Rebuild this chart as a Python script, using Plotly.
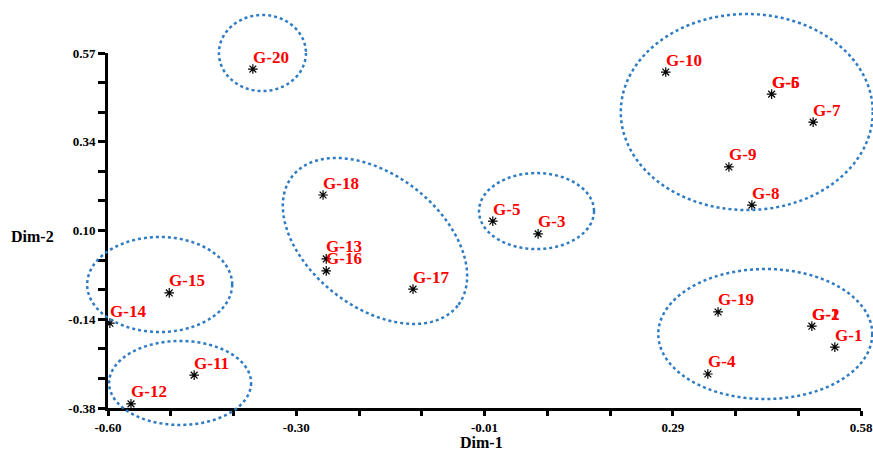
import numpy as np
import plotly.graph_objects as go

# Genotype scores on the first two dimensions
genotypes = ["G-1", "G-2", "G-3", "G-4", "G-5", "G-6", "G-7", "G-8", "G-9", "G-10",
             "G-11", "G-12", "G-13", "G-14", "G-15", "G-16", "G-17", "G-18", "G-19", "G-20"]
dim1 = [0.539, 0.503, 0.074, 0.340, 0.003, 0.440, 0.505, 0.409, 0.373, 0.274,
        -0.465, -0.564, -0.258, -0.597, -0.504, -0.258, -0.122, -0.263, 0.356, -0.373]
dim2 = [-0.217, -0.161, 0.086, -0.289, 0.120, 0.460, 0.385, 0.163, 0.265, 0.519,
        -0.292, -0.369, 0.019, -0.153, -0.072, -0.013, -0.062, 0.190, -0.123, 0.527]

# Labels printed on top of another label at the same spot
overlay_labels = ["G-5", "G-1"]
overlay_dim1 = [0.440, 0.503]
overlay_dim2 = [0.460, -0.161]

# Axis ranges and tick labels
x_range = [-0.60, 0.58]
y_range = [-0.38, 0.57]
x_tick_text = ["-0.60", "-0.30", "-0.01", "0.29", "0.58"]
y_tick_text = ["-0.38", "-0.14", "0.10", "0.34", "0.57"]

# Cluster outlines: centre (Dim-1, Dim-2), semi-axes in px, rotation in degrees
clusters = [
    (-0.358, 0.570, 43.5, 38, 0),
    (0.401, 0.412, 126, 98, 0),
    (0.430, -0.182, 107, 65, 0),
    (0.0715, 0.147, 57.5, 38, 0),
    (-0.1816, 0.067, 105, 66, 38),
    (-0.519, -0.0495, 72.5, 47.5, 0),
    (-0.487, -0.313, 71, 42, 0),
]

W, H = 873, 450
ML, MR, MT, MB = 108, 12, 53, 42
PW, PH = W - ML - MR, H - MT - MB

serif = "Liberation Serif"
red = "#FF0000"
blue = "#2E7BC4"

fig = go.Figure()
fig.add_trace(go.Scatter(
    x=dim1, y=dim2, mode="markers",
    marker=dict(symbol="asterisk-open", size=8, color="black",
                line=dict(color="black", width=1.2)),
    cliponaxis=False, showlegend=False, hoverinfo="text", text=genotypes,
))

annotations = []
for name, xv, yv in list(zip(genotypes, dim1, dim2)) + list(zip(overlay_labels, overlay_dim1, overlay_dim2)):
    annotations.append(dict(
        x=xv, y=yv, xref="x", yref="y", text=name, showarrow=False,
        xanchor="left", yanchor="middle", xshift=-2, yshift=12,
        font=dict(family=serif, size=17, color=red, weight="bold"),
    ))

# Axis titles
annotations.append(dict(x=(32 - ML) / PW, y=(H - MB - 236) / PH, xref="paper", yref="paper",
                        text="Dim-2", showarrow=False, xanchor="center", yanchor="middle",
                        font=dict(family=serif, size=16, color="black", weight="bold")))
annotations.append(dict(x=(481 - ML) / PW, y=(H - MB - 442) / PH, xref="paper", yref="paper",
                        text="Dim-1", showarrow=False, xanchor="center", yanchor="middle",
                        font=dict(family=serif, size=16, color="black", weight="bold")))


def to_paper(xv, yv):
    return ((xv - x_range[0]) / (x_range[1] - x_range[0]),
            (yv - y_range[0]) / (y_range[1] - y_range[0]))


shapes = []
t = np.linspace(0, 2 * np.pi, 181)
for cx, cy, a, b, ang in clusters:
    px0, py0 = to_paper(cx, cy)
    th = np.radians(ang)
    # offsets in screen px (y downward), then into paper fractions
    dx = a * np.cos(t) * np.cos(th) - b * np.sin(t) * np.sin(th)
    dy = a * np.cos(t) * np.sin(th) + b * np.sin(t) * np.cos(th)
    xs = px0 + dx / PW
    ys = py0 - dy / PH
    path = "M " + " L ".join(f"{u:.5f},{v:.5f}" for u, v in zip(xs, ys)) + " Z"
    shapes.append(dict(type="path", xref="paper", yref="paper", path=path,
                       line=dict(color=blue, width=2.5, dash="dot"), layer="above"))

x_ticks = [x_range[0] + k * (x_range[1] - x_range[0]) / 12 for k in range(13)]
y_ticks = [y_range[0] + k * (y_range[1] - y_range[0]) / 12 for k in range(13)]
x_labels = [x_tick_text[k // 3] if k % 3 == 0 else "" for k in range(13)]
y_labels = [y_tick_text[k // 3] if k % 3 == 0 else "" for k in range(13)]

axis_common = dict(showgrid=False, zeroline=False, showline=True, linecolor="black",
                   linewidth=3, ticks="outside", tickwidth=2.5, tickcolor="black",
                   automargin=False,
                   tickfont=dict(family=serif, size=13, color="black", weight="bold"))

fig.update_layout(
    width=W, height=H, autosize=False,
    margin=dict(l=ML, r=MR, t=MT, b=MB),
    paper_bgcolor="white", plot_bgcolor="white",
    xaxis=dict(range=x_range, tickmode="array", tickvals=x_ticks, ticktext=x_labels,
               ticklen=5, **axis_common),
    yaxis=dict(range=y_range, tickmode="array", tickvals=y_ticks, ticktext=y_labels,
               ticklen=7, **axis_common),
    annotations=annotations, shapes=shapes, showlegend=False,
)

fig.write_html("out.html")
